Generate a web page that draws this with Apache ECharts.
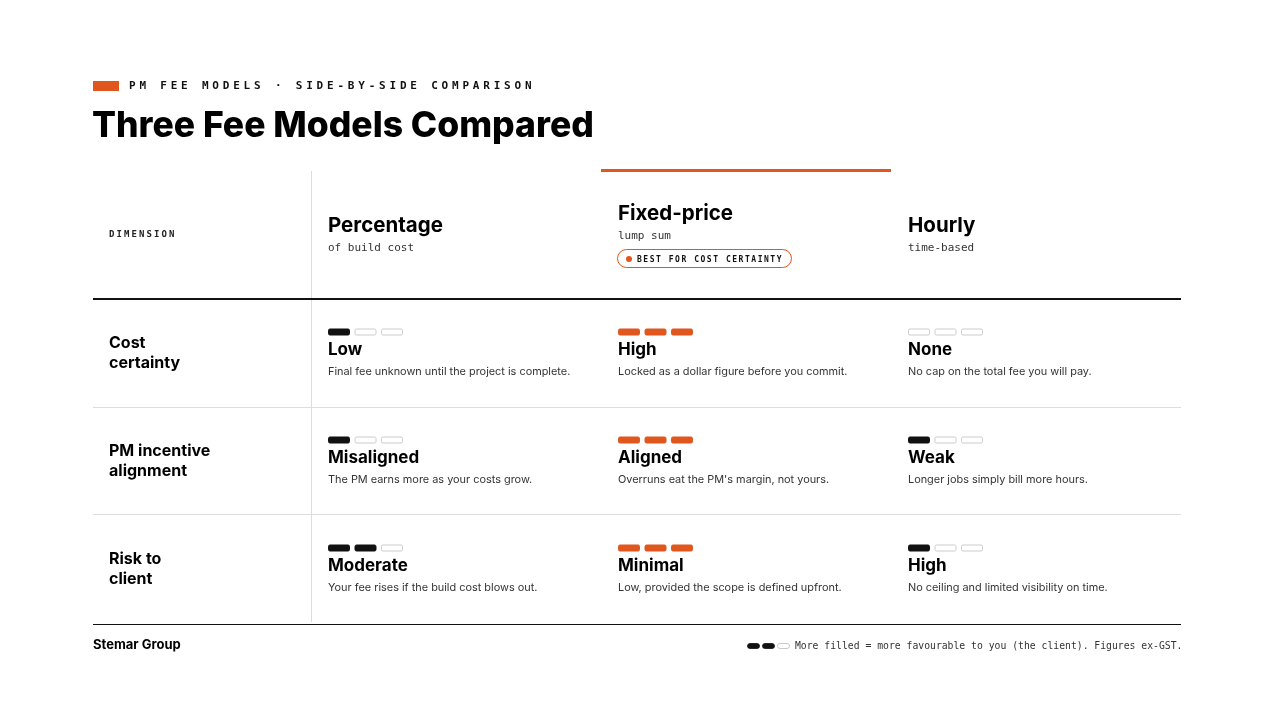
<!DOCTYPE html>
<html><head><meta charset="utf-8">
<script src="https://cdn.jsdelivr.net/npm/echarts@6/dist/echarts.min.js"></script>
<style>html,body{margin:0;padding:0;background:#fff}#c{width:1274px;height:716px}</style>
</head><body><div id="c"></div>
<script>
const models = ['Percentage','Fixed-price','Hourly'];
const modelSubs = ['of build cost','lump sum','time-based'];
const dimensions = ['Cost\ncertainty','PM incentive\nalignment','Risk to\nclient'];
const scores = [[1,3,0],[1,3,1],[2,3,1]];
const ratings = [['Low','High','None'],['Misaligned','Aligned','Weak'],['Moderate','Minimal','High']];
const notes = [
 ['Final fee unknown until the project is complete.','Locked as a dollar figure before you commit.','No cap on the total fee you will pay.'],
 ['The PM earns more as your costs grow.',"Overruns eat the PM's margin, not yours.",'Longer jobs simply bill more hours.'],
 ['Your fee rises if the build cost blows out.','Low, provided the scope is defined upfront.','No ceiling and limited visibility on time.']
];
const maxPips = 3;
const highlight = 1;
const ORANGE = '#E0561F', INK = '#111', SANS = 'Inter, Roboto, sans-serif', MONO = '"DejaVu Sans Mono", monospace';

const data = [];
scores.forEach((row, r) => row.forEach((v, c) => data.push([c, r, v])));

function spaced(str, x, y, pitch, font, fill) {
  return str.split('').map((ch, i) => ({type:'text', x: x + i*pitch, y, style:{text: ch, font, fill, textVerticalAlign:'middle'}}));
}
const g = [];
g.push({type:'rect', shape:{x:93,y:81,width:26,height:10}, style:{fill:ORANGE}});
g.push(...spaced('PM FEE MODELS · SIDE-BY-SIDE COMPARISON', 129, 86.5, 10.42, 'bold 11px ' + MONO, INK));
g.push({type:'text', x:92, y:126, style:{text:'Three Fee Models Compared', font:'800 35.5px ' + SANS, fill:'#000', textVerticalAlign:'middle'}});
g.push(...spaced('DIMENSION', 109, 235, 7.5, 'bold 9px ' + MONO, '#222'));
g.push({type:'rect', shape:{x:601,y:169,width:290,height:3}, style:{fill:ORANGE}});
g.push({type:'line', shape:{x1:311.5,y1:171,x2:311.5,y2:622}, style:{stroke:'#ddd', lineWidth:1}});
g.push({type:'line', shape:{x1:93,y1:299,x2:1181,y2:299}, style:{stroke:INK, lineWidth:2}});
g.push({type:'line', shape:{x1:93,y1:407.5,x2:1181,y2:407.5}, style:{stroke:'#ddd', lineWidth:1}});
g.push({type:'line', shape:{x1:93,y1:514.5,x2:1181,y2:514.5}, style:{stroke:'#ddd', lineWidth:1}});
g.push({type:'line', shape:{x1:93,y1:624.5,x2:1181,y2:624.5}, style:{stroke:INK, lineWidth:1}});
models.forEach((m, i) => {
  const x = 328 + i*290;
  const dy = i === highlight ? -12 : 0;
  g.push({type:'text', x, y:226+dy, style:{text:m, font:'bold 20.5px ' + SANS, fill:'#000', textVerticalAlign:'middle'}});
  g.push({type:'text', x, y:248+dy, style:{text:modelSubs[i], font:'11px ' + MONO, fill:'#333', textVerticalAlign:'middle'}});
});
g.push({type:'rect', shape:{x:617.5,y:249.5,width:174,height:18,r:9}, style:{fill:'#fff', stroke:ORANGE, lineWidth:1}});
g.push({type:'circle', shape:{cx:629,cy:259,r:3}, style:{fill:ORANGE}});
g.push(...spaced('BEST FOR COST CERTAINTY', 637, 259.5, 6.35, 'bold 8px ' + MONO, INK));
dimensions.forEach((d, r) => {
  g.push({type:'text', x:109, y:353 + r*108, style:{text:d, font:'bold 16px ' + SANS, fill:'#000', textVerticalAlign:'middle', lineHeight:20}});
});
g.push({type:'text', x:93, y:645, style:{text:'Stemar Group', font:'bold 13px ' + SANS, fill:'#000', textVerticalAlign:'middle'}});
[0,1,2].forEach(i => g.push({type:'rect', shape:{x:747.5+i*15,y:643.5,width:12,height:5,r:2.5}, style:{fill: i<2?INK:'#fff', stroke: i<2?INK:'#bbb', lineWidth:0.8}}));
g.push({type:'text', x:795, y:646.5, style:{text:'More filled = more favourable to you (the client). Figures ex-GST.', font:'9.75px ' + MONO, fill:'#333', textVerticalAlign:'middle'}});

const chart = echarts.init(document.getElementById('c'), null, {renderer:'canvas'});
chart.setOption({
  animation:false,
  backgroundColor:'#fff',
  grid:{left:311, right:93, top:299, bottom:93},
  xAxis:{type:'category', data:models, show:false},
  yAxis:{type:'category', data:dimensions, inverse:true, show:false},
  graphic:g,
  series:[{
    type:'custom',
    data,
    renderItem(params, api) {
      const c = api.value(0), r = api.value(1), v = api.value(2);
      const p = api.coord([c, r]);
      const x0 = p[0] - 128, yc = p[1];
      const col = c === highlight ? ORANGE : INK;
      const ch = [];
      for (let k = 0; k < maxPips; k++) {
        const filled = k < v;
        ch.push({type:'rect', shape:{x:x0 + k*26.5 + 0.5, y:yc - 24, width:21, height:6, r:1.5},
          style:{fill: filled ? col : '#fff', stroke: filled ? col : '#ccc', lineWidth:1}});
      }
      ch.push({type:'text', x:x0, y:yc - 3.5, style:{text:ratings[r][c], font:'bold 17px ' + SANS, fill:'#000', textVerticalAlign:'middle'}});
      ch.push({type:'text', x:x0, y:yc + 19, style:{text:notes[r][c], font:'10.9px ' + SANS, fill:'#333', textVerticalAlign:'middle'}});
      return {type:'group', children:ch};
    }
  }]
});
</script></body></html>
